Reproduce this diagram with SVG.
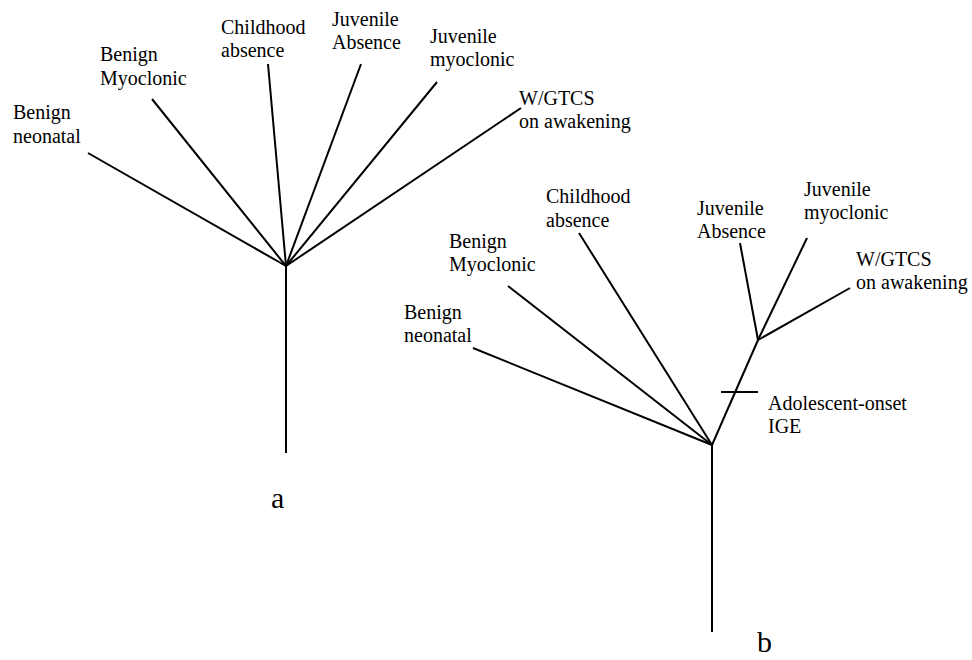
<svg xmlns="http://www.w3.org/2000/svg" width="972" height="660" viewBox="0 0 972 660">
<style>
.e{stroke:#000;stroke-width:2;fill:none;stroke-linecap:butt}
.t{font-family:"Liberation Serif","Times New Roman",serif;font-size:20px;fill:#000}
.big{font-family:"Liberation Serif","Times New Roman",serif;font-size:30px;fill:#000}
</style>
<rect width="972" height="660" fill="#fff"/>
<g id="connectors">
<line class="e" x1="286" y1="266" x2="88" y2="153"/>
<line class="e" x1="286" y1="266" x2="152" y2="99"/>
<line class="e" x1="286" y1="266" x2="268" y2="64"/>
<line class="e" x1="286" y1="266" x2="361" y2="64"/>
<line class="e" x1="286" y1="266" x2="437" y2="82"/>
<line class="e" x1="286" y1="266" x2="521" y2="108"/>
<line class="e" x1="286" y1="266" x2="286" y2="453"/>
<line class="e" x1="712" y1="445" x2="473" y2="348"/>
<line class="e" x1="712" y1="445" x2="508" y2="286"/>
<line class="e" x1="712" y1="445" x2="579" y2="233"/>
<line class="e" x1="712" y1="445" x2="758" y2="340"/>
<line class="e" x1="712" y1="445" x2="712" y2="632"/>
<line class="e" x1="758" y1="340" x2="740" y2="243"/>
<line class="e" x1="758" y1="340" x2="807" y2="238"/>
<line class="e" x1="758" y1="340" x2="850" y2="288"/>
<line class="e" x1="721" y1="392" x2="758" y2="392"/>
</g>
<g id="a-benign-neonatal"><text class="t" x="13" y="119">Benign</text><text class="t" x="13" y="143">neonatal</text></g>
<g id="a-benign-myoclonic"><text class="t" x="100" y="61">Benign</text><text class="t" x="100" y="85">Myoclonic</text></g>
<g id="a-childhood-absence"><text class="t" x="221" y="34">Childhood</text><text class="t" x="221" y="57">absence</text></g>
<g id="a-juvenile-absence"><text class="t" x="332" y="26">Juvenile</text><text class="t" x="332" y="49">Absence</text></g>
<g id="a-juvenile-myoclonic"><text class="t" x="430" y="43">Juvenile</text><text class="t" x="430" y="66">myoclonic</text></g>
<g id="a-wgtcs"><text class="t" x="519" y="105">W/GTCS</text><text class="t" x="519" y="128">on awakening</text></g>
<g id="label-a"><text class="big" x="271" y="508">a</text></g>
<g id="b-benign-neonatal"><text class="t" x="404" y="319">Benign</text><text class="t" x="404" y="342">neonatal</text></g>
<g id="b-benign-myoclonic"><text class="t" x="449" y="248">Benign</text><text class="t" x="449" y="271">Myoclonic</text></g>
<g id="b-childhood-absence"><text class="t" x="546" y="203">Childhood</text><text class="t" x="546" y="227">absence</text></g>
<g id="b-juvenile-absence"><text class="t" x="697" y="215">Juvenile</text><text class="t" x="697" y="238">Absence</text></g>
<g id="b-juvenile-myoclonic"><text class="t" x="804" y="196">Juvenile</text><text class="t" x="804" y="219">myoclonic</text></g>
<g id="b-wgtcs"><text class="t" x="856" y="266">W/GTCS</text><text class="t" x="856" y="289">on awakening</text></g>
<g id="b-adolescent"><text class="t" x="768" y="410">Adolescent-onset</text><text class="t" x="768" y="433">IGE</text></g>
<g id="label-b"><text class="big" x="757" y="652">b</text></g>
</svg>
